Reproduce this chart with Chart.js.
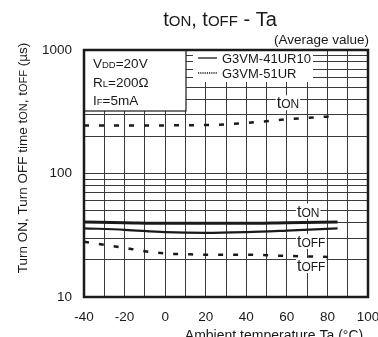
<!DOCTYPE html>
<html lang="en">
<head>
<meta charset="UTF-8">
<title>tON, tOFF - Ta</title>
<script src="https://cdn.jsdelivr.net/npm/chart.js"></script>
<style>
  html, body { margin: 0; padding: 0; background: #fff; }
</style>
</head>
<body>
<canvas id="chart" width="378" height="337"></canvas>
<script>
// Readings from the reference graph (Ta in °C, times in µs)
const temps41 = [-40, -20, 0, 20, 40, 60, 85];
const ton41 = [40.5, 40, 39.5, 39.5, 39.5, 40, 40.5];
const toff41 = [36, 35, 33.5, 33, 33.5, 34.5, 36];

const temps51 = [-40, -30, -20, -10, 0, 10, 20, 30, 40, 50, 60, 70, 85];
const ton51 = [245, 245, 245, 245, 245, 246, 247, 250, 257, 265, 275, 282, 292];
const toff51 = [28, 26.5, 25, 23.5, 22.5, 22.2, 22, 22, 22, 21.8, 21.5, 21.3, 21];

const yTicks = [10, 20, 30, 40, 50, 60, 70, 80, 90, 100, 200, 300, 400, 500, 600, 700, 800, 900, 1000];
const yLabels = [10, 100, 1000];
const xLabels = [-40, -20, 0, 20, 40, 60, 80, 100];

const FONT = '"Liberation Sans", Arial, sans-serif';
const INK = '#1a1a1a';

function pts(xs, ys) {
    return xs.map((x, i) => ({ x: x, y: ys[i] }));
}

// draw text made of parts with different sizes: [[text, size], ...]
function richWidth(ctx, parts) {
    let w = 0;
    parts.forEach(p => {
        ctx.font = p[1] + 'px ' + FONT;
        w += ctx.measureText(p[0]).width;
    });
    return w;
}
function drawRich(ctx, parts, x, y, align) {
    const w = richWidth(ctx, parts);
    let cx = x;
    if (align === 'center') cx = x - w / 2;
    if (align === 'right') cx = x - w;
    ctx.textBaseline = 'alphabetic';
    ctx.textAlign = 'left';
    parts.forEach(p => {
        ctx.font = p[1] + 'px ' + FONT;
        ctx.fillText(p[0], cx, y);
        cx += ctx.measureText(p[0]).width;
    });
    return w;
}
function label(ctx, parts, x, y) {
    const w = richWidth(ctx, parts);
    ctx.fillStyle = '#fff';
    ctx.fillRect(x - 1, y - 13, w + 2, 15);
    ctx.fillStyle = INK;
    drawRich(ctx, parts, x, y, 'left');
}

const decorations = {
    id: 'decorations',
    afterDraw(chart) {
        const ctx = chart.ctx;
        const a = chart.chartArea;
        const xs = chart.scales.x;
        const ys = chart.scales.y;
        ctx.save();

        // conditions box
        ctx.fillStyle = '#fff';
        ctx.fillRect(a.left, a.top, 102, 61);
        ctx.strokeStyle = INK;
        ctx.lineWidth = 1.2;
        ctx.strokeRect(a.left, a.top, 102, 61);
        ctx.fillStyle = INK;
        drawRich(ctx, [['V', 13.5], ['DD', 9.5], ['=20V', 13.5]], 93, 68, 'left');
        drawRich(ctx, [['R', 13.5], ['L', 9.5], ['=200Ω', 13.5]], 93, 87, 'left');
        drawRich(ctx, [['I', 13.5], ['F', 9.5], ['=5mA', 13.5]], 93, 105, 'left');

        // series legend
        ctx.fillStyle = '#fff';
        ctx.fillRect(193, a.top + 1, 120, 31);
        ctx.strokeStyle = INK;
        ctx.lineWidth = 1.3;
        ctx.beginPath();
        ctx.moveTo(198, 58);
        ctx.lineTo(217, 58);
        ctx.stroke();
        ctx.setLineDash([1.2, 1]);
        ctx.lineWidth = 1.6;
        ctx.beginPath();
        ctx.moveTo(198, 73);
        ctx.lineTo(217, 73);
        ctx.stroke();
        ctx.setLineDash([]);
        ctx.fillStyle = INK;
        drawRich(ctx, [['G3VM-41UR10', 13]], 222, 63, 'left');
        drawRich(ctx, [['G3VM-51UR', 13]], 222, 78, 'left');

        // curve labels
        label(ctx, [['t', 16], ['ON', 12]], xs.getPixelForValue(55), ys.getPixelForValue(350) + 2);
        label(ctx, [['t', 16], ['ON', 12]], xs.getPixelForValue(65), ys.getPixelForValue(52) + 8);
        label(ctx, [['t', 16], ['OFF', 12]], xs.getPixelForValue(65), ys.getPixelForValue(29) + 7);
        label(ctx, [['t', 16], ['OFF', 12]], xs.getPixelForValue(65), ys.getPixelForValue(18.5) + 7);

        // plot frame
        ctx.strokeStyle = INK;
        ctx.lineWidth = 2.5;
        ctx.strokeRect(a.left, a.top, a.right - a.left, a.bottom - a.top);

        // titles
        ctx.fillStyle = INK;
        drawRich(ctx, [['t', 20], ['ON', 15], [', t', 20], ['OFF', 15], [' - Ta', 20]], 220, 26, 'center');
        drawRich(ctx, [['(Average value)', 13.5]], 369, 44, 'right');
        drawRich(ctx, [['Ambient temperature Ta (°C)', 14]], 274, 340, 'center');

        ctx.translate(27, 158);
        ctx.rotate(-Math.PI / 2);
        drawRich(ctx, [['Turn ON, Turn OFF time t', 13.5], ['ON', 11], [', t', 13.5], ['OFF', 11], [' (µs)', 13.5]], 0, 0, 'center');
        ctx.restore();
    }
};

const solid = { borderColor: INK, pointRadius: 0, fill: false, tension: 0.3, cubicInterpolationMode: 'monotone' };
const dashed = { borderColor: INK, pointRadius: 0, fill: false, borderDash: [5, 10], borderWidth: 2.5, tension: 0.3, cubicInterpolationMode: 'monotone' };

new Chart(document.getElementById('chart'), {
    type: 'line',
    data: {
        datasets: [
            Object.assign({ label: 'G3VM-41UR10 tON', data: pts(temps41, ton41), borderWidth: 3 }, solid),
            Object.assign({ label: 'G3VM-41UR10 tOFF', data: pts(temps41, toff41), borderWidth: 2.2 }, solid),
            Object.assign({ label: 'G3VM-51UR tON', data: pts(temps51, ton51) }, dashed),
            Object.assign({ label: 'G3VM-51UR tOFF', data: pts(temps51, toff51) }, dashed)
        ]
    },
    options: {
        responsive: false,
        devicePixelRatio: 1,
        animation: false,
        layout: { padding: { top: 50, right: 10, left: 0, bottom: 0 } },
        plugins: { legend: { display: false }, tooltip: { enabled: false } },
        scales: {
            x: {
                type: 'linear',
                min: -40,
                max: 100,
                afterFit: s => { s.height = 40; s.paddingLeft = 0; s.paddingRight = 0; },
                grid: { color: '#3a3a3a', lineWidth: 1, drawTicks: false },
                border: { display: false },
                ticks: {
                    stepSize: 10,
                    autoSkip: false,
                    maxRotation: 0,
                    padding: 12,
                    color: INK,
                    font: { family: FONT, size: 13.5 },
                    callback: v => xLabels.includes(v) ? String(v) : ''
                }
            },
            y: {
                type: 'logarithmic',
                min: 10,
                max: 1000,
                afterFit: s => { s.width = 84; },
                afterBuildTicks: s => { s.ticks = yTicks.map(v => ({ value: v })); },
                grid: { color: '#3a3a3a', lineWidth: 1, drawTicks: false },
                border: { display: false },
                ticks: {
                    autoSkip: false,
                    padding: 12,
                    color: INK,
                    font: { family: FONT, size: 13.5 },
                    callback: v => yLabels.includes(v) ? String(v) : ''
                }
            }
        }
    },
    plugins: [decorations]
});
</script>
</body>
</html>
